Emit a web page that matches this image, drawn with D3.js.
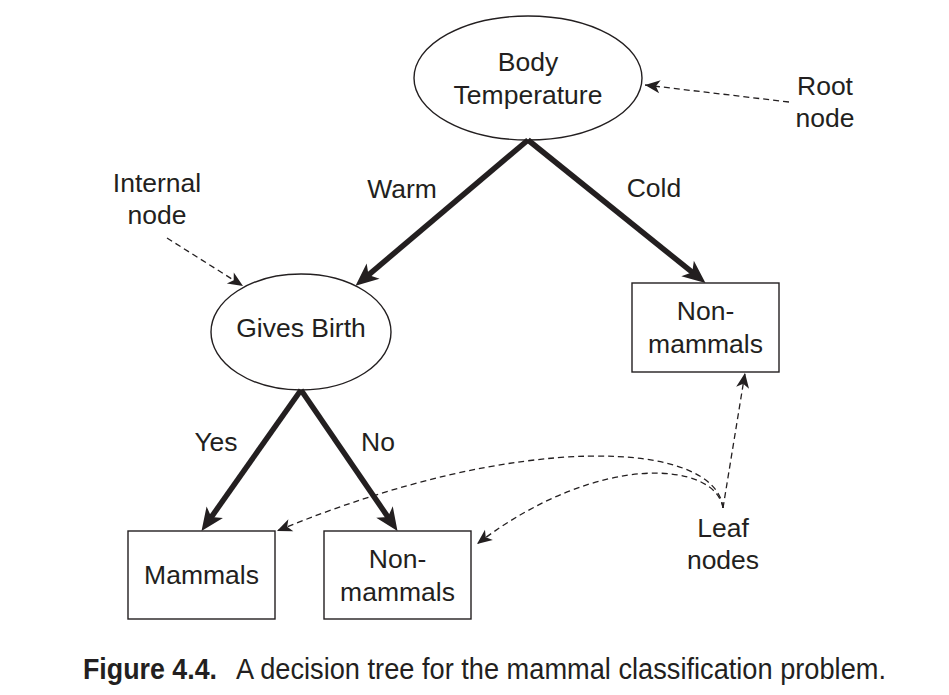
<!DOCTYPE html>
<html>
<head>
<meta charset="utf-8">
<script src="https://cdn.jsdelivr.net/npm/d3@7"></script>
<style>
  body { margin: 0; background: #fff; }
  svg text { font-family: "Liberation Sans", Arial, Helvetica, sans-serif; fill: #231f20; }
</style>
</head>
<body>
<div id="viz"></div>
<script>
// tree content
const node_ids = ['root', 'gives_birth', 'leaf_cold', 'leaf_yes', 'leaf_no'];
const node_labels = [['Body', 'Temperature'], ['Gives Birth'], ['Non-', 'mammals'], ['Mammals'], ['Non-', 'mammals']];
const node_shapes = ['ellipse', 'ellipse', 'box', 'box', 'box'];

const edge_from = ['root', 'root', 'gives_birth', 'gives_birth'];
const edge_to = ['gives_birth', 'leaf_cold', 'leaf_yes', 'leaf_no'];
const edge_labels = ['Warm', 'Cold', 'Yes', 'No'];

const note_labels = [['Root', 'node'], ['Internal', 'node'], ['Leaf', 'nodes']];
const note_targets = [['root'], ['gives_birth'], ['leaf_cold', 'leaf_yes', 'leaf_no']];

const caption_bold = 'Figure 4.4.';
const caption_text = 'A decision tree for the mammal classification problem.';

const LAYOUT = {
  width: 949,
  height: 695,
  color: '#231f20',
  font_size: 26.5,
  line_height: 33,
  // node centres and sizes (label_dy nudges the text)
  nodes: {
    root:        { x: 528,   y: 78,  rx: 114, ry: 62, label_dy: 0 },
    gives_birth: { x: 301,   y: 332, rx: 90,  ry: 58, label_dy: -4 },
    leaf_cold:   { x: 705.5, y: 327.5, w: 147, h: 89, label_dy: 0 },
    leaf_yes:    { x: 201.5, y: 575, w: 147, h: 88, label_dy: 0 },
    leaf_no:     { x: 397.5, y: 575, w: 147, h: 88, label_dy: 0 }
  },
  edge_label_pos: [[402, 198], [654, 197], [216, 451], [378, 451]],
  notes: [
    { x: 825, y: 95,  from: [[789, 102]], to: [[645, 85]] },
    { x: 157, y: 192, from: [[167, 238]], to: [[243, 286]] },
    { x: 723, y: 537, from: [[723, 508], [723, 508], [723, 508]],
      to: [[745, 373], [277, 531], [477, 544]],
      ctrl: [null, [[716, 440], [520, 430]], [[716, 462], [600, 450]]] }
  ]
}

const svg = d3.select('#viz').append('svg')
  .attr('width', LAYOUT.width)
  .attr('height', LAYOUT.height);

const defs = svg.append('defs');

defs.append('marker')
  .attr('id', 'arrow_bold')
  .attr('markerUnits', 'userSpaceOnUse')
  .attr('viewBox', '-24 -12 26 24')
  .attr('markerWidth', 26).attr('markerHeight', 24)
  .attr('refX', 0).attr('refY', 0)
  .attr('orient', 'auto')
  .append('path')
  .attr('d', 'M0,0 L-23,-10 L-17,0 L-23,10 Z')
  .attr('fill', LAYOUT.color);

defs.append('marker')
  .attr('id', 'arrow_dash')
  .attr('markerUnits', 'userSpaceOnUse')
  .attr('viewBox', '-16 -8 18 16')
  .attr('markerWidth', 18).attr('markerHeight', 16)
  .attr('refX', 0).attr('refY', 0)
  .attr('orient', 'auto')
  .append('path')
  .attr('d', 'M0,0 L-15,-6.5 L-11,0 L-15,6.5 Z')
  .attr('fill', LAYOUT.color);

function multiline(g, lines, x, y) {
  const off = 9 - (lines.length - 1) * LAYOUT.line_height / 2;
  g.append('text')
    .attr('text-anchor', 'middle')
    .attr('font-size', LAYOUT.font_size)
    .selectAll('tspan')
    .data(lines)
    .join('tspan')
    .attr('x', x)
    .attr('y', (d, i) => y + off + i * LAYOUT.line_height)
    .text(d => d);
}

// where an edge leaves the parent and where it meets the child
function edge_start(id) {
  const n = LAYOUT.nodes[id];
  return [n.x, n.y + n.ry];
}

function edge_end(id, start) {
  const n = LAYOUT.nodes[id];
  if (node_shapes[node_ids.indexOf(id)] === 'box') {
    return [n.x, n.y - n.h / 2];
  }
  const dx = start[0] - n.x, dy = start[1] - n.y;
  const t = 1 / Math.sqrt((dx / n.rx) ** 2 + (dy / n.ry) ** 2);
  return [n.x + dx * t, n.y + dy * t];
}

// edges
const edges = svg.append('g').classed('edges', true);
edge_from.forEach((from, i) => {
  const s = edge_start(from);
  const e = edge_end(edge_to[i], s);
  // pull the line end back a bit so the arrow tip stays sharp
  const len = Math.hypot(e[0] - s[0], e[1] - s[1]);
  const k = (len - 14) / len;
  edges.append('line')
    .attr('x1', s[0]).attr('y1', s[1])
    .attr('x2', s[0] + (e[0] - s[0]) * k).attr('y2', s[1] + (e[1] - s[1]) * k)
    .attr('stroke', LAYOUT.color)
    .attr('stroke-width', 5.5);
  edges.append('path')
    .attr('d', `M${s[0] + (e[0] - s[0]) * k},${s[1] + (e[1] - s[1]) * k}L${e[0]},${e[1]}`)
    .attr('stroke', 'none')
    .attr('fill', 'none')
    .attr('marker-end', 'url(#arrow_bold)');
  const [lx, ly] = LAYOUT.edge_label_pos[i];
  edges.append('text')
    .attr('x', lx).attr('y', ly)
    .attr('text-anchor', 'middle')
    .attr('font-size', LAYOUT.font_size)
    .text(edge_labels[i]);
});

// nodes
const nodes = svg.append('g').classed('nodes', true);
node_ids.forEach((id, i) => {
  const n = LAYOUT.nodes[id];
  if (node_shapes[i] === 'ellipse') {
    nodes.append('ellipse')
      .attr('cx', n.x).attr('cy', n.y)
      .attr('rx', n.rx).attr('ry', n.ry)
      .attr('fill', 'none')
      .attr('stroke', LAYOUT.color)
      .attr('stroke-width', 1.4);
  } else {
    nodes.append('rect')
      .attr('x', n.x - n.w / 2).attr('y', n.y - n.h / 2)
      .attr('width', n.w).attr('height', n.h)
      .attr('fill', 'none')
      .attr('stroke', LAYOUT.color)
      .attr('stroke-width', 1.4);
  }
  multiline(nodes, node_labels[i], n.x, n.y + n.label_dy);
});

// annotations with dashed pointers
const notes = svg.append('g').classed('notes', true);
const line = d3.line().curve(d3.curveLinear);
note_labels.forEach((lines, i) => {
  const note = LAYOUT.notes[i];
  notes.append('text')
    .attr('text-anchor', 'middle')
    .attr('font-size', LAYOUT.font_size)
    .selectAll('tspan')
    .data(lines)
    .join('tspan')
    .attr('x', note.x)
    .attr('y', (d, j) => note.y + j * 32)
    .text(d => d);

  note_targets[i].forEach((target, j) => {
    const a = note.from[j], b = note.to[j];
    const c = note.ctrl ? note.ctrl[j] : null;
    let d;
    if (c) {
      const p = d3.path();
      p.moveTo(a[0], a[1]);
      p.bezierCurveTo(c[0][0], c[0][1], c[1][0], c[1][1], b[0], b[1]);
      d = p.toString();
    } else {
      d = line([a, b]);
    }
    notes.append('path')
      .attr('d', d)
      .attr('fill', 'none')
      .attr('stroke', LAYOUT.color)
      .attr('stroke-width', 1.3)
      .attr('stroke-dasharray', '6,4')
      .attr('marker-end', 'url(#arrow_dash)');
  });
});

// caption
const caption = svg.append('g').classed('caption', true);
caption.append('text')
  .attr('x', 83).attr('y', 679)
  .attr('font-size', 29)
  .attr('font-weight', 'bold')
  .attr('textLength', 134)
  .attr('lengthAdjust', 'spacingAndGlyphs')
  .text(caption_bold);
caption.append('text')
  .attr('x', 236).attr('y', 679)
  .attr('font-size', 29)
  .attr('textLength', 650)
  .attr('lengthAdjust', 'spacingAndGlyphs')
  .text(caption_text);
</script>
</body>
</html>
